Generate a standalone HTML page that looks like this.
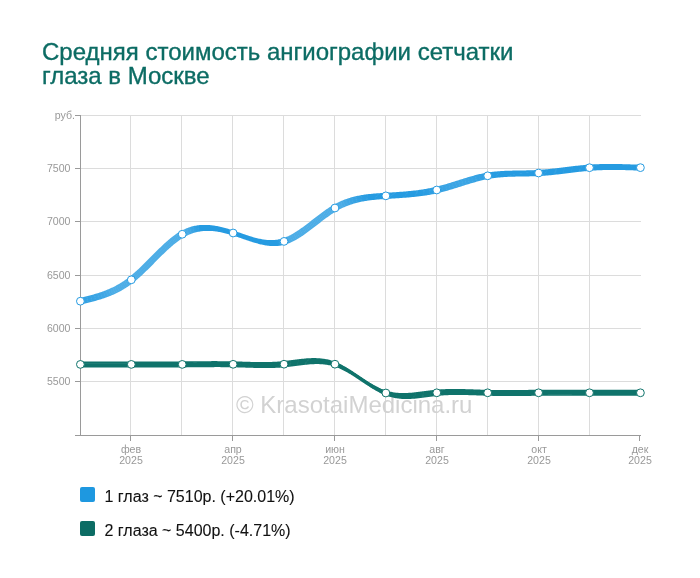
<!DOCTYPE html>
<html><head><meta charset="utf-8">
<style>
html,body{margin:0;padding:0;background:#fff;width:700px;height:578px;overflow:hidden;}
body{position:relative;font-family:"Liberation Sans",sans-serif;}
.title{position:absolute;left:42px;top:40px;font-size:24px;line-height:24px;color:#0c6c64;white-space:nowrap;-webkit-text-stroke:0.35px #0c6c64;will-change:transform;}
svg{position:absolute;left:0;top:0;}
.leg{position:absolute;left:80px;font-size:16px;color:#111;white-space:nowrap;-webkit-text-stroke:0.1px #111;will-change:transform;}
.sw{position:absolute;left:0;top:0;width:15px;height:15px;border-radius:2px;}
.lt{position:absolute;left:24.5px;top:0.5px;line-height:18px;}
</style></head><body>
<div class="title">Средняя стоимость ангиографии сетчатки<br>глаза в Москве</div>
<svg width="700" height="578" viewBox="0 0 700 578">
<line x1="80" y1="115.5" x2="641" y2="115.5" stroke="#dcdcdc" stroke-width="1"/>
<line x1="80" y1="168.5" x2="641" y2="168.5" stroke="#dcdcdc" stroke-width="1"/>
<line x1="80" y1="221.5" x2="641" y2="221.5" stroke="#dcdcdc" stroke-width="1"/>
<line x1="80" y1="275.5" x2="641" y2="275.5" stroke="#dcdcdc" stroke-width="1"/>
<line x1="80" y1="328.5" x2="641" y2="328.5" stroke="#dcdcdc" stroke-width="1"/>
<line x1="80" y1="381.5" x2="641" y2="381.5" stroke="#dcdcdc" stroke-width="1"/>
<line x1="130.5" y1="115" x2="130.5" y2="435" stroke="#dcdcdc" stroke-width="1"/>
<line x1="181.5" y1="115" x2="181.5" y2="435" stroke="#dcdcdc" stroke-width="1"/>
<line x1="232.5" y1="115" x2="232.5" y2="435" stroke="#dcdcdc" stroke-width="1"/>
<line x1="283.5" y1="115" x2="283.5" y2="435" stroke="#dcdcdc" stroke-width="1"/>
<line x1="334.5" y1="115" x2="334.5" y2="435" stroke="#dcdcdc" stroke-width="1"/>
<line x1="385.5" y1="115" x2="385.5" y2="435" stroke="#dcdcdc" stroke-width="1"/>
<line x1="436.5" y1="115" x2="436.5" y2="435" stroke="#dcdcdc" stroke-width="1"/>
<line x1="487.5" y1="115" x2="487.5" y2="435" stroke="#dcdcdc" stroke-width="1"/>
<line x1="538.5" y1="115" x2="538.5" y2="435" stroke="#dcdcdc" stroke-width="1"/>
<line x1="589.5" y1="115" x2="589.5" y2="435" stroke="#dcdcdc" stroke-width="1"/>
<text x="236" y="413" font-size="24" fill="#d2d2d2" font-family="Liberation Sans">© KrasotaiMedicina.ru</text>
<line x1="80.5" y1="115" x2="80.5" y2="436" stroke="#9a9a9a" stroke-width="1"/>
<line x1="75" y1="435.5" x2="641" y2="435.5" stroke="#9a9a9a" stroke-width="1"/>
<line x1="75" y1="115.5" x2="80" y2="115.5" stroke="#9a9a9a" stroke-width="1"/>
<text x="75" y="119" font-size="10.6" fill="#999999" text-anchor="end" font-family="Liberation Sans">руб.</text>
<line x1="75" y1="168.5" x2="80" y2="168.5" stroke="#9a9a9a" stroke-width="1"/>
<text x="70.5" y="171.5" font-size="10.6" fill="#999999" text-anchor="end" font-family="Liberation Sans">7500</text>
<line x1="75" y1="221.5" x2="80" y2="221.5" stroke="#9a9a9a" stroke-width="1"/>
<text x="70.5" y="224.5" font-size="10.6" fill="#999999" text-anchor="end" font-family="Liberation Sans">7000</text>
<line x1="75" y1="275.5" x2="80" y2="275.5" stroke="#9a9a9a" stroke-width="1"/>
<text x="70.5" y="278.5" font-size="10.6" fill="#999999" text-anchor="end" font-family="Liberation Sans">6500</text>
<line x1="75" y1="328.5" x2="80" y2="328.5" stroke="#9a9a9a" stroke-width="1"/>
<text x="70.5" y="331.5" font-size="10.6" fill="#999999" text-anchor="end" font-family="Liberation Sans">6000</text>
<line x1="75" y1="381.5" x2="80" y2="381.5" stroke="#9a9a9a" stroke-width="1"/>
<text x="70.5" y="384.5" font-size="10.6" fill="#999999" text-anchor="end" font-family="Liberation Sans">5500</text>
<line x1="130.5" y1="435" x2="130.5" y2="441" stroke="#9a9a9a" stroke-width="1"/>
<text x="131.0" y="452.5" font-size="10.6" fill="#999999" text-anchor="middle" font-family="Liberation Sans">фев</text>
<text x="131.0" y="463.5" font-size="10.6" fill="#999999" text-anchor="middle" font-family="Liberation Sans">2025</text>
<line x1="232.5" y1="435" x2="232.5" y2="441" stroke="#9a9a9a" stroke-width="1"/>
<text x="233.0" y="452.5" font-size="10.6" fill="#999999" text-anchor="middle" font-family="Liberation Sans">апр</text>
<text x="233.0" y="463.5" font-size="10.6" fill="#999999" text-anchor="middle" font-family="Liberation Sans">2025</text>
<line x1="334.5" y1="435" x2="334.5" y2="441" stroke="#9a9a9a" stroke-width="1"/>
<text x="335.0" y="452.5" font-size="10.6" fill="#999999" text-anchor="middle" font-family="Liberation Sans">июн</text>
<text x="335.0" y="463.5" font-size="10.6" fill="#999999" text-anchor="middle" font-family="Liberation Sans">2025</text>
<line x1="436.5" y1="435" x2="436.5" y2="441" stroke="#9a9a9a" stroke-width="1"/>
<text x="437.0" y="452.5" font-size="10.6" fill="#999999" text-anchor="middle" font-family="Liberation Sans">авг</text>
<text x="437.0" y="463.5" font-size="10.6" fill="#999999" text-anchor="middle" font-family="Liberation Sans">2025</text>
<line x1="538.5" y1="435" x2="538.5" y2="441" stroke="#9a9a9a" stroke-width="1"/>
<text x="539.0" y="452.5" font-size="10.6" fill="#999999" text-anchor="middle" font-family="Liberation Sans">окт</text>
<text x="539.0" y="463.5" font-size="10.6" fill="#999999" text-anchor="middle" font-family="Liberation Sans">2025</text>
<line x1="639.5" y1="435" x2="639.5" y2="441" stroke="#9a9a9a" stroke-width="1"/>
<text x="640.0" y="452.5" font-size="10.6" fill="#999999" text-anchor="middle" font-family="Liberation Sans">дек</text>
<text x="640.0" y="463.5" font-size="10.6" fill="#999999" text-anchor="middle" font-family="Liberation Sans">2025</text>
<defs><linearGradient id="gpb" gradientUnits="userSpaceOnUse" x1="80" y1="0" x2="641" y2="0"><stop offset="0.0007" stop-color="#33a1e3"/><stop offset="0.0061" stop-color="#34a1e3"/><stop offset="0.0114" stop-color="#34a2e3"/><stop offset="0.0168" stop-color="#35a2e3"/><stop offset="0.0221" stop-color="#37a3e3"/><stop offset="0.0275" stop-color="#39a4e4"/><stop offset="0.0328" stop-color="#3ba5e4"/><stop offset="0.0381" stop-color="#3ea6e4"/><stop offset="0.0435" stop-color="#41a7e5"/><stop offset="0.0488" stop-color="#44a9e5"/><stop offset="0.0542" stop-color="#48abe6"/><stop offset="0.0595" stop-color="#4dade6"/><stop offset="0.0649" stop-color="#4dade6"/><stop offset="0.0702" stop-color="#4dade6"/><stop offset="0.0756" stop-color="#4dade6"/><stop offset="0.0809" stop-color="#4dade6"/><stop offset="0.0863" stop-color="#4dade6"/><stop offset="0.0916" stop-color="#4dade6"/><stop offset="0.0970" stop-color="#4dade6"/><stop offset="0.1023" stop-color="#4dade6"/><stop offset="0.1077" stop-color="#4dade6"/><stop offset="0.1130" stop-color="#4dade6"/><stop offset="0.1184" stop-color="#4dade6"/><stop offset="0.1237" stop-color="#4dade6"/><stop offset="0.1291" stop-color="#4dade6"/><stop offset="0.1344" stop-color="#4dade6"/><stop offset="0.1398" stop-color="#4dade6"/><stop offset="0.1451" stop-color="#4dade6"/><stop offset="0.1504" stop-color="#4dade6"/><stop offset="0.1558" stop-color="#4dade6"/><stop offset="0.1611" stop-color="#4dade6"/><stop offset="0.1665" stop-color="#4dade6"/><stop offset="0.1718" stop-color="#4dade6"/><stop offset="0.1772" stop-color="#4dade6"/><stop offset="0.1825" stop-color="#4dade6"/><stop offset="0.1879" stop-color="#4dade6"/><stop offset="0.1932" stop-color="#45a9e5"/><stop offset="0.1986" stop-color="#3da5e4"/><stop offset="0.2039" stop-color="#35a2e3"/><stop offset="0.2093" stop-color="#2d9ee2"/><stop offset="0.2146" stop-color="#269be1"/><stop offset="0.2200" stop-color="#269be1"/><stop offset="0.2253" stop-color="#269be1"/><stop offset="0.2307" stop-color="#269be1"/><stop offset="0.2360" stop-color="#269be1"/><stop offset="0.2414" stop-color="#269be1"/><stop offset="0.2467" stop-color="#269be1"/><stop offset="0.2520" stop-color="#269be1"/><stop offset="0.2574" stop-color="#269be1"/><stop offset="0.2627" stop-color="#269be1"/><stop offset="0.2681" stop-color="#269be1"/><stop offset="0.2734" stop-color="#269be1"/><stop offset="0.2788" stop-color="#269be1"/><stop offset="0.2841" stop-color="#269be1"/><stop offset="0.2895" stop-color="#269be1"/><stop offset="0.2948" stop-color="#269be1"/><stop offset="0.3002" stop-color="#269be1"/><stop offset="0.3055" stop-color="#269be1"/><stop offset="0.3109" stop-color="#269be1"/><stop offset="0.3162" stop-color="#269be1"/><stop offset="0.3216" stop-color="#269be1"/><stop offset="0.3269" stop-color="#269be1"/><stop offset="0.3323" stop-color="#269be1"/><stop offset="0.3376" stop-color="#269be1"/><stop offset="0.3430" stop-color="#269be1"/><stop offset="0.3483" stop-color="#269be1"/><stop offset="0.3537" stop-color="#299ce1"/><stop offset="0.3590" stop-color="#32a0e3"/><stop offset="0.3643" stop-color="#3ca5e4"/><stop offset="0.3697" stop-color="#45a9e5"/><stop offset="0.3750" stop-color="#4dade6"/><stop offset="0.3804" stop-color="#4dade6"/><stop offset="0.3857" stop-color="#4dade6"/><stop offset="0.3911" stop-color="#4dade6"/><stop offset="0.3964" stop-color="#4dade6"/><stop offset="0.4018" stop-color="#4dade6"/><stop offset="0.4071" stop-color="#4dade6"/><stop offset="0.4125" stop-color="#4dade6"/><stop offset="0.4178" stop-color="#4dade6"/><stop offset="0.4232" stop-color="#4dade6"/><stop offset="0.4285" stop-color="#4dade6"/><stop offset="0.4339" stop-color="#4dade6"/><stop offset="0.4392" stop-color="#4dade6"/><stop offset="0.4446" stop-color="#4dade6"/><stop offset="0.4499" stop-color="#4dade6"/><stop offset="0.4553" stop-color="#4dade6"/><stop offset="0.4606" stop-color="#4dade6"/><stop offset="0.4660" stop-color="#4cace6"/><stop offset="0.4713" stop-color="#46aae5"/><stop offset="0.4766" stop-color="#41a7e5"/><stop offset="0.4820" stop-color="#3ca5e4"/><stop offset="0.4873" stop-color="#38a3e3"/><stop offset="0.4927" stop-color="#34a1e3"/><stop offset="0.4980" stop-color="#30a0e2"/><stop offset="0.5034" stop-color="#2d9ee2"/><stop offset="0.5087" stop-color="#2a9de1"/><stop offset="0.5141" stop-color="#279be1"/><stop offset="0.5194" stop-color="#269be1"/><stop offset="0.5248" stop-color="#269be1"/><stop offset="0.5301" stop-color="#269be1"/><stop offset="0.5355" stop-color="#269be1"/><stop offset="0.5408" stop-color="#269be1"/><stop offset="0.5462" stop-color="#269be1"/><stop offset="0.5515" stop-color="#269be1"/><stop offset="0.5569" stop-color="#269be1"/><stop offset="0.5622" stop-color="#269be1"/><stop offset="0.5676" stop-color="#269be1"/><stop offset="0.5729" stop-color="#269be1"/><stop offset="0.5783" stop-color="#269be1"/><stop offset="0.5836" stop-color="#269be1"/><stop offset="0.5889" stop-color="#269be1"/><stop offset="0.5943" stop-color="#269be1"/><stop offset="0.5996" stop-color="#269be1"/><stop offset="0.6050" stop-color="#279ce1"/><stop offset="0.6103" stop-color="#299ce1"/><stop offset="0.6157" stop-color="#2b9de2"/><stop offset="0.6210" stop-color="#2d9ee2"/><stop offset="0.6264" stop-color="#2f9fe2"/><stop offset="0.6317" stop-color="#31a0e3"/><stop offset="0.6371" stop-color="#33a1e3"/><stop offset="0.6424" stop-color="#36a2e3"/><stop offset="0.6478" stop-color="#38a3e3"/><stop offset="0.6531" stop-color="#39a4e4"/><stop offset="0.6585" stop-color="#3aa4e4"/><stop offset="0.6638" stop-color="#3ba5e4"/><stop offset="0.6692" stop-color="#3ca5e4"/><stop offset="0.6745" stop-color="#3ca5e4"/><stop offset="0.6799" stop-color="#3ca5e4"/><stop offset="0.6852" stop-color="#3ba5e4"/><stop offset="0.6906" stop-color="#3ba4e4"/><stop offset="0.6959" stop-color="#39a4e4"/><stop offset="0.7012" stop-color="#38a3e3"/><stop offset="0.7066" stop-color="#36a2e3"/><stop offset="0.7119" stop-color="#34a1e3"/><stop offset="0.7173" stop-color="#32a0e3"/><stop offset="0.7226" stop-color="#2f9fe2"/><stop offset="0.7280" stop-color="#2c9ee2"/><stop offset="0.7333" stop-color="#299ce1"/><stop offset="0.7387" stop-color="#269be1"/><stop offset="0.7440" stop-color="#269be1"/><stop offset="0.7494" stop-color="#269be1"/><stop offset="0.7547" stop-color="#269be1"/><stop offset="0.7601" stop-color="#269be1"/><stop offset="0.7654" stop-color="#269be1"/><stop offset="0.7708" stop-color="#269be1"/><stop offset="0.7761" stop-color="#269be1"/><stop offset="0.7815" stop-color="#269be1"/><stop offset="0.7868" stop-color="#269be1"/><stop offset="0.7922" stop-color="#269be1"/><stop offset="0.7975" stop-color="#269be1"/><stop offset="0.8029" stop-color="#269be1"/><stop offset="0.8082" stop-color="#269be1"/><stop offset="0.8135" stop-color="#269be1"/><stop offset="0.8189" stop-color="#269be1"/><stop offset="0.8242" stop-color="#269be1"/><stop offset="0.8296" stop-color="#269be1"/><stop offset="0.8349" stop-color="#269be1"/><stop offset="0.8403" stop-color="#269be1"/><stop offset="0.8456" stop-color="#269be1"/><stop offset="0.8510" stop-color="#269be1"/><stop offset="0.8563" stop-color="#269be1"/><stop offset="0.8617" stop-color="#269be1"/><stop offset="0.8670" stop-color="#269be1"/><stop offset="0.8724" stop-color="#269be1"/><stop offset="0.8777" stop-color="#269be1"/><stop offset="0.8831" stop-color="#269be1"/><stop offset="0.8884" stop-color="#269be1"/><stop offset="0.8938" stop-color="#269be1"/><stop offset="0.8991" stop-color="#269be1"/><stop offset="0.9045" stop-color="#269be1"/><stop offset="0.9098" stop-color="#269be1"/><stop offset="0.9152" stop-color="#269be1"/><stop offset="0.9205" stop-color="#269be1"/><stop offset="0.9258" stop-color="#269be1"/><stop offset="0.9312" stop-color="#269be1"/><stop offset="0.9365" stop-color="#269be1"/><stop offset="0.9419" stop-color="#269be1"/><stop offset="0.9472" stop-color="#269be1"/><stop offset="0.9526" stop-color="#269be1"/><stop offset="0.9579" stop-color="#269be1"/><stop offset="0.9633" stop-color="#269be1"/><stop offset="0.9686" stop-color="#269be1"/><stop offset="0.9740" stop-color="#269be1"/><stop offset="0.9793" stop-color="#269be1"/><stop offset="0.9847" stop-color="#269be1"/><stop offset="0.9900" stop-color="#269be1"/><stop offset="0.9954" stop-color="#269be1"/></linearGradient><path id="pb" d="M80.4,301.20 L81.4,300.96 L82.4,300.72 L83.4,300.48 L84.4,300.24 L85.4,300.00 L86.4,299.75 L87.4,299.50 L88.4,299.25 L89.4,299.00 L90.4,298.74 L91.4,298.48 L92.4,298.21 L93.4,297.94 L94.4,297.66 L95.4,297.38 L96.4,297.09 L97.4,296.79 L98.4,296.49 L99.4,296.18 L100.4,295.86 L101.4,295.53 L102.4,295.19 L103.4,294.85 L104.4,294.49 L105.4,294.13 L106.4,293.75 L107.4,293.37 L108.4,292.97 L109.4,292.56 L110.4,292.14 L111.4,291.70 L112.4,291.26 L113.4,290.80 L114.4,290.32 L115.4,289.83 L116.4,289.33 L117.4,288.81 L118.4,288.28 L119.4,287.73 L120.4,287.16 L121.4,286.58 L122.4,285.98 L123.4,285.36 L124.4,284.72 L125.4,284.07 L126.4,283.39 L127.4,282.70 L128.4,281.99 L129.4,281.26 L130.4,280.50 L131.4,279.73 L132.4,278.93 L133.4,278.12 L134.4,277.28 L135.4,276.43 L136.4,275.56 L137.4,274.67 L138.4,273.77 L139.4,272.86 L140.4,271.93 L141.4,270.99 L142.4,270.03 L143.4,269.07 L144.4,268.10 L145.4,267.12 L146.4,266.13 L147.4,265.14 L148.4,264.14 L149.4,263.13 L150.4,262.12 L151.4,261.12 L152.4,260.11 L153.4,259.09 L154.4,258.08 L155.4,257.08 L156.4,256.07 L157.4,255.07 L158.4,254.07 L159.4,253.08 L160.4,252.09 L161.4,251.12 L162.4,250.15 L163.4,249.19 L164.4,248.24 L165.4,247.31 L166.4,246.38 L167.4,245.47 L168.4,244.58 L169.4,243.70 L170.4,242.83 L171.4,241.99 L172.4,241.16 L173.4,240.36 L174.4,239.57 L175.4,238.81 L176.4,238.06 L177.4,237.35 L178.4,236.65 L179.4,235.99 L180.4,235.34 L181.4,234.73 L182.4,234.15 L183.4,233.59 L184.4,233.07 L185.4,232.57 L186.4,232.10 L187.4,231.66 L188.4,231.24 L189.4,230.85 L190.4,230.49 L191.4,230.15 L192.4,229.84 L193.4,229.56 L194.4,229.29 L195.4,229.06 L196.4,228.84 L197.4,228.65 L198.4,228.48 L199.4,228.33 L200.4,228.21 L201.4,228.10 L202.4,228.02 L203.4,227.95 L204.4,227.91 L205.4,227.88 L206.4,227.88 L207.4,227.89 L208.4,227.92 L209.4,227.97 L210.4,228.03 L211.4,228.11 L212.4,228.21 L213.4,228.32 L214.4,228.44 L215.4,228.59 L216.4,228.74 L217.4,228.91 L218.4,229.09 L219.4,229.29 L220.4,229.49 L221.4,229.71 L222.4,229.94 L223.4,230.18 L224.4,230.44 L225.4,230.70 L226.4,230.97 L227.4,231.25 L228.4,231.54 L229.4,231.83 L230.4,232.14 L231.4,232.45 L232.4,232.76 L233.4,233.09 L234.4,233.42 L235.4,233.75 L236.4,234.09 L237.4,234.43 L238.4,234.78 L239.4,235.13 L240.4,235.47 L241.4,235.82 L242.4,236.17 L243.4,236.52 L244.4,236.87 L245.4,237.21 L246.4,237.55 L247.4,237.89 L248.4,238.23 L249.4,238.55 L250.4,238.88 L251.4,239.19 L252.4,239.50 L253.4,239.80 L254.4,240.10 L255.4,240.38 L256.4,240.65 L257.4,240.91 L258.4,241.16 L259.4,241.40 L260.4,241.63 L261.4,241.84 L262.4,242.04 L263.4,242.22 L264.4,242.39 L265.4,242.54 L266.4,242.67 L267.4,242.78 L268.4,242.88 L269.4,242.96 L270.4,243.01 L271.4,243.05 L272.4,243.06 L273.4,243.05 L274.4,243.02 L275.4,242.97 L276.4,242.89 L277.4,242.78 L278.4,242.65 L279.4,242.50 L280.4,242.31 L281.4,242.10 L282.4,241.86 L283.4,241.59 L284.4,241.29 L285.4,240.96 L286.4,240.60 L287.4,240.21 L288.4,239.79 L289.4,239.35 L290.4,238.89 L291.4,238.39 L292.4,237.88 L293.4,237.34 L294.4,236.78 L295.4,236.21 L296.4,235.61 L297.4,234.99 L298.4,234.36 L299.4,233.71 L300.4,233.04 L301.4,232.36 L302.4,231.67 L303.4,230.96 L304.4,230.24 L305.4,229.52 L306.4,228.78 L307.4,228.03 L308.4,227.28 L309.4,226.52 L310.4,225.76 L311.4,224.99 L312.4,224.21 L313.4,223.44 L314.4,222.66 L315.4,221.88 L316.4,221.11 L317.4,220.33 L318.4,219.56 L319.4,218.79 L320.4,218.02 L321.4,217.26 L322.4,216.51 L323.4,215.76 L324.4,215.02 L325.4,214.29 L326.4,213.58 L327.4,212.87 L328.4,212.17 L329.4,211.49 L330.4,210.83 L331.4,210.17 L332.4,209.54 L333.4,208.92 L334.4,208.32 L335.4,207.74 L336.4,207.18 L337.4,206.64 L338.4,206.12 L339.4,205.61 L340.4,205.13 L341.4,204.66 L342.4,204.21 L343.4,203.77 L344.4,203.36 L345.4,202.95 L346.4,202.57 L347.4,202.20 L348.4,201.84 L349.4,201.50 L350.4,201.18 L351.4,200.87 L352.4,200.57 L353.4,200.28 L354.4,200.01 L355.4,199.75 L356.4,199.51 L357.4,199.27 L358.4,199.05 L359.4,198.83 L360.4,198.63 L361.4,198.44 L362.4,198.25 L363.4,198.08 L364.4,197.91 L365.4,197.76 L366.4,197.61 L367.4,197.47 L368.4,197.34 L369.4,197.21 L370.4,197.10 L371.4,196.98 L372.4,196.88 L373.4,196.78 L374.4,196.68 L375.4,196.59 L376.4,196.51 L377.4,196.43 L378.4,196.35 L379.4,196.27 L380.4,196.20 L381.4,196.13 L382.4,196.07 L383.4,196.00 L384.4,195.94 L385.4,195.88 L386.4,195.82 L387.4,195.76 L388.4,195.70 L389.4,195.63 L390.4,195.57 L391.4,195.51 L392.4,195.45 L393.4,195.39 L394.4,195.33 L395.4,195.27 L396.4,195.20 L397.4,195.14 L398.4,195.07 L399.4,195.00 L400.4,194.93 L401.4,194.86 L402.4,194.79 L403.4,194.72 L404.4,194.64 L405.4,194.56 L406.4,194.48 L407.4,194.39 L408.4,194.31 L409.4,194.22 L410.4,194.12 L411.4,194.03 L412.4,193.93 L413.4,193.82 L414.4,193.71 L415.4,193.60 L416.4,193.49 L417.4,193.37 L418.4,193.24 L419.4,193.12 L420.4,192.98 L421.4,192.84 L422.4,192.70 L423.4,192.55 L424.4,192.40 L425.4,192.24 L426.4,192.08 L427.4,191.91 L428.4,191.73 L429.4,191.55 L430.4,191.36 L431.4,191.16 L432.4,190.96 L433.4,190.75 L434.4,190.54 L435.4,190.32 L436.4,190.09 L437.4,189.85 L438.4,189.61 L439.4,189.36 L440.4,189.10 L441.4,188.84 L442.4,188.57 L443.4,188.29 L444.4,188.01 L445.4,187.73 L446.4,187.44 L447.4,187.14 L448.4,186.85 L449.4,186.55 L450.4,186.24 L451.4,185.94 L452.4,185.63 L453.4,185.32 L454.4,185.00 L455.4,184.69 L456.4,184.37 L457.4,184.06 L458.4,183.74 L459.4,183.42 L460.4,183.11 L461.4,182.79 L462.4,182.47 L463.4,182.16 L464.4,181.85 L465.4,181.54 L466.4,181.23 L467.4,180.92 L468.4,180.62 L469.4,180.32 L470.4,180.02 L471.4,179.73 L472.4,179.44 L473.4,179.16 L474.4,178.88 L475.4,178.60 L476.4,178.34 L477.4,178.07 L478.4,177.82 L479.4,177.57 L480.4,177.33 L481.4,177.09 L482.4,176.86 L483.4,176.64 L484.4,176.43 L485.4,176.23 L486.4,176.03 L487.4,175.85 L488.4,175.67 L489.4,175.51 L490.4,175.35 L491.4,175.20 L492.4,175.07 L493.4,174.93 L494.4,174.81 L495.4,174.70 L496.4,174.59 L497.4,174.49 L498.4,174.40 L499.4,174.31 L500.4,174.23 L501.4,174.15 L502.4,174.09 L503.4,174.02 L504.4,173.96 L505.4,173.91 L506.4,173.86 L507.4,173.82 L508.4,173.78 L509.4,173.74 L510.4,173.71 L511.4,173.68 L512.4,173.65 L513.4,173.63 L514.4,173.60 L515.4,173.58 L516.4,173.56 L517.4,173.55 L518.4,173.53 L519.4,173.52 L520.4,173.50 L521.4,173.49 L522.4,173.47 L523.4,173.46 L524.4,173.44 L525.4,173.43 L526.4,173.41 L527.4,173.39 L528.4,173.37 L529.4,173.35 L530.4,173.32 L531.4,173.30 L532.4,173.27 L533.4,173.23 L534.4,173.20 L535.4,173.16 L536.4,173.11 L537.4,173.06 L538.4,173.01 L539.4,172.95 L540.4,172.89 L541.4,172.82 L542.4,172.75 L543.4,172.67 L544.4,172.59 L545.4,172.51 L546.4,172.42 L547.4,172.33 L548.4,172.24 L549.4,172.14 L550.4,172.04 L551.4,171.93 L552.4,171.83 L553.4,171.72 L554.4,171.61 L555.4,171.49 L556.4,171.38 L557.4,171.26 L558.4,171.14 L559.4,171.02 L560.4,170.90 L561.4,170.78 L562.4,170.66 L563.4,170.54 L564.4,170.41 L565.4,170.29 L566.4,170.16 L567.4,170.04 L568.4,169.92 L569.4,169.79 L570.4,169.67 L571.4,169.55 L572.4,169.43 L573.4,169.31 L574.4,169.19 L575.4,169.08 L576.4,168.96 L577.4,168.85 L578.4,168.74 L579.4,168.63 L580.4,168.52 L581.4,168.42 L582.4,168.32 L583.4,168.22 L584.4,168.13 L585.4,168.03 L586.4,167.95 L587.4,167.86 L588.4,167.78 L589.4,167.71 L590.4,167.64 L591.4,167.57 L592.4,167.50 L593.4,167.45 L594.4,167.39 L595.4,167.34 L596.4,167.29 L597.4,167.25 L598.4,167.21 L599.4,167.17 L600.4,167.14 L601.4,167.11 L602.4,167.08 L603.4,167.06 L604.4,167.04 L605.4,167.02 L606.4,167.00 L607.4,166.99 L608.4,166.98 L609.4,166.98 L610.4,166.97 L611.4,166.97 L612.4,166.97 L613.4,166.98 L614.4,166.98 L615.4,166.99 L616.4,167.00 L617.4,167.01 L618.4,167.03 L619.4,167.04 L620.4,167.06 L621.4,167.08 L622.4,167.10 L623.4,167.12 L624.4,167.15 L625.4,167.17 L626.4,167.20 L627.4,167.23 L628.4,167.26 L629.4,167.29 L630.4,167.32 L631.4,167.35 L632.4,167.38 L633.4,167.42 L634.4,167.45 L635.4,167.48 L636.4,167.52 L637.4,167.55 L638.4,167.59 L639.4,167.62 L640.4,167.66 L640.4,167.66" fill="none" stroke="url(#gpb)" stroke-width="1.6" stroke-linejoin="round" stroke-linecap="round"/></defs>
<use href="#pb" transform="translate(-1.525,-2.200)"/>
<use href="#pb" transform="translate(-0.915,-1.320)"/>
<use href="#pb" transform="translate(-0.305,-0.440)"/>
<use href="#pb" transform="translate(0.305,0.440)"/>
<use href="#pb" transform="translate(0.915,1.320)"/>
<use href="#pb" transform="translate(1.525,2.200)"/>
<defs><linearGradient id="gpt" gradientUnits="userSpaceOnUse" x1="80" y1="0" x2="641" y2="0"><stop offset="0.0007" stop-color="#0f736b"/><stop offset="0.0061" stop-color="#0f736b"/><stop offset="0.0114" stop-color="#0f736b"/><stop offset="0.0168" stop-color="#0f736b"/><stop offset="0.0221" stop-color="#0f736b"/><stop offset="0.0275" stop-color="#0f736b"/><stop offset="0.0328" stop-color="#0f736b"/><stop offset="0.0381" stop-color="#0f736b"/><stop offset="0.0435" stop-color="#0f736b"/><stop offset="0.0488" stop-color="#0f736b"/><stop offset="0.0542" stop-color="#0f736b"/><stop offset="0.0595" stop-color="#0f736b"/><stop offset="0.0649" stop-color="#0f736b"/><stop offset="0.0702" stop-color="#0f736b"/><stop offset="0.0756" stop-color="#0f736b"/><stop offset="0.0809" stop-color="#0f736b"/><stop offset="0.0863" stop-color="#0f736b"/><stop offset="0.0916" stop-color="#0f736b"/><stop offset="0.0970" stop-color="#0f736b"/><stop offset="0.1023" stop-color="#0f736b"/><stop offset="0.1077" stop-color="#0f736b"/><stop offset="0.1130" stop-color="#0f736b"/><stop offset="0.1184" stop-color="#0f736b"/><stop offset="0.1237" stop-color="#0f736b"/><stop offset="0.1291" stop-color="#0f736b"/><stop offset="0.1344" stop-color="#0f736b"/><stop offset="0.1398" stop-color="#0f736b"/><stop offset="0.1451" stop-color="#0f736b"/><stop offset="0.1504" stop-color="#0f736b"/><stop offset="0.1558" stop-color="#0f736b"/><stop offset="0.1611" stop-color="#0f736b"/><stop offset="0.1665" stop-color="#0f736b"/><stop offset="0.1718" stop-color="#0f736b"/><stop offset="0.1772" stop-color="#0f736b"/><stop offset="0.1825" stop-color="#0f736b"/><stop offset="0.1879" stop-color="#0f736b"/><stop offset="0.1932" stop-color="#0f736b"/><stop offset="0.1986" stop-color="#0f736b"/><stop offset="0.2039" stop-color="#0f736b"/><stop offset="0.2093" stop-color="#0f736b"/><stop offset="0.2146" stop-color="#0f736b"/><stop offset="0.2200" stop-color="#0f736b"/><stop offset="0.2253" stop-color="#0f736b"/><stop offset="0.2307" stop-color="#0f736b"/><stop offset="0.2360" stop-color="#0f736b"/><stop offset="0.2414" stop-color="#0f736b"/><stop offset="0.2467" stop-color="#0f736b"/><stop offset="0.2520" stop-color="#0f736b"/><stop offset="0.2574" stop-color="#0f736b"/><stop offset="0.2627" stop-color="#0f736b"/><stop offset="0.2681" stop-color="#0f736b"/><stop offset="0.2734" stop-color="#0f736b"/><stop offset="0.2788" stop-color="#0f736b"/><stop offset="0.2841" stop-color="#0f736b"/><stop offset="0.2895" stop-color="#0f736b"/><stop offset="0.2948" stop-color="#0f736b"/><stop offset="0.3002" stop-color="#0f736b"/><stop offset="0.3055" stop-color="#0f736b"/><stop offset="0.3109" stop-color="#0f736b"/><stop offset="0.3162" stop-color="#0f736b"/><stop offset="0.3216" stop-color="#0f736b"/><stop offset="0.3269" stop-color="#0f736b"/><stop offset="0.3323" stop-color="#0f736b"/><stop offset="0.3376" stop-color="#0f736b"/><stop offset="0.3430" stop-color="#0f736b"/><stop offset="0.3483" stop-color="#0f736b"/><stop offset="0.3537" stop-color="#0f736b"/><stop offset="0.3590" stop-color="#0f736b"/><stop offset="0.3643" stop-color="#0f736b"/><stop offset="0.3697" stop-color="#0f736b"/><stop offset="0.3750" stop-color="#10736b"/><stop offset="0.3804" stop-color="#10746c"/><stop offset="0.3857" stop-color="#10746c"/><stop offset="0.3911" stop-color="#10736b"/><stop offset="0.3964" stop-color="#0f736b"/><stop offset="0.4018" stop-color="#0f736b"/><stop offset="0.4071" stop-color="#0f736b"/><stop offset="0.4125" stop-color="#0f736b"/><stop offset="0.4178" stop-color="#0f736b"/><stop offset="0.4232" stop-color="#0f736b"/><stop offset="0.4285" stop-color="#0f736b"/><stop offset="0.4339" stop-color="#0f736b"/><stop offset="0.4392" stop-color="#0f736b"/><stop offset="0.4446" stop-color="#0f736b"/><stop offset="0.4499" stop-color="#0f736b"/><stop offset="0.4553" stop-color="#0f736b"/><stop offset="0.4606" stop-color="#0f736b"/><stop offset="0.4660" stop-color="#0f736b"/><stop offset="0.4713" stop-color="#0f736b"/><stop offset="0.4766" stop-color="#0f736b"/><stop offset="0.4820" stop-color="#0f736b"/><stop offset="0.4873" stop-color="#0f736b"/><stop offset="0.4927" stop-color="#0f736b"/><stop offset="0.4980" stop-color="#0f736b"/><stop offset="0.5034" stop-color="#0f736b"/><stop offset="0.5087" stop-color="#0f736b"/><stop offset="0.5141" stop-color="#0f736b"/><stop offset="0.5194" stop-color="#0f736b"/><stop offset="0.5248" stop-color="#0f736b"/><stop offset="0.5301" stop-color="#0f736b"/><stop offset="0.5355" stop-color="#0f736b"/><stop offset="0.5408" stop-color="#0f736b"/><stop offset="0.5462" stop-color="#0f736b"/><stop offset="0.5515" stop-color="#0f736b"/><stop offset="0.5569" stop-color="#0f736b"/><stop offset="0.5622" stop-color="#0f736b"/><stop offset="0.5676" stop-color="#0f736b"/><stop offset="0.5729" stop-color="#0f736b"/><stop offset="0.5783" stop-color="#0f736b"/><stop offset="0.5836" stop-color="#0f736b"/><stop offset="0.5889" stop-color="#0f736b"/><stop offset="0.5943" stop-color="#0f736b"/><stop offset="0.5996" stop-color="#0f736b"/><stop offset="0.6050" stop-color="#0f736b"/><stop offset="0.6103" stop-color="#10746c"/><stop offset="0.6157" stop-color="#11746c"/><stop offset="0.6210" stop-color="#11746c"/><stop offset="0.6264" stop-color="#10736b"/><stop offset="0.6317" stop-color="#0f736b"/><stop offset="0.6371" stop-color="#0f736b"/><stop offset="0.6424" stop-color="#0f736b"/><stop offset="0.6478" stop-color="#0f736b"/><stop offset="0.6531" stop-color="#0f736b"/><stop offset="0.6585" stop-color="#0f736b"/><stop offset="0.6638" stop-color="#0f736b"/><stop offset="0.6692" stop-color="#0f736b"/><stop offset="0.6745" stop-color="#0f736b"/><stop offset="0.6799" stop-color="#0f736b"/><stop offset="0.6852" stop-color="#0f736b"/><stop offset="0.6906" stop-color="#0f736b"/><stop offset="0.6959" stop-color="#0f736b"/><stop offset="0.7012" stop-color="#0f736b"/><stop offset="0.7066" stop-color="#0f736b"/><stop offset="0.7119" stop-color="#0f736b"/><stop offset="0.7173" stop-color="#0f736b"/><stop offset="0.7226" stop-color="#0f736b"/><stop offset="0.7280" stop-color="#0f736b"/><stop offset="0.7333" stop-color="#0f736b"/><stop offset="0.7387" stop-color="#0f736b"/><stop offset="0.7440" stop-color="#0f736b"/><stop offset="0.7494" stop-color="#0f736b"/><stop offset="0.7547" stop-color="#0f736b"/><stop offset="0.7601" stop-color="#0f736b"/><stop offset="0.7654" stop-color="#0f736b"/><stop offset="0.7708" stop-color="#0f736b"/><stop offset="0.7761" stop-color="#0f736b"/><stop offset="0.7815" stop-color="#0f736b"/><stop offset="0.7868" stop-color="#0f736b"/><stop offset="0.7922" stop-color="#0f736b"/><stop offset="0.7975" stop-color="#0f736b"/><stop offset="0.8029" stop-color="#0f736b"/><stop offset="0.8082" stop-color="#0f736b"/><stop offset="0.8135" stop-color="#0f736b"/><stop offset="0.8189" stop-color="#0f736b"/><stop offset="0.8242" stop-color="#0f736b"/><stop offset="0.8296" stop-color="#0f736b"/><stop offset="0.8349" stop-color="#0f736b"/><stop offset="0.8403" stop-color="#0f736b"/><stop offset="0.8456" stop-color="#0f736b"/><stop offset="0.8510" stop-color="#0f736b"/><stop offset="0.8563" stop-color="#0f736b"/><stop offset="0.8617" stop-color="#0f736b"/><stop offset="0.8670" stop-color="#0f736b"/><stop offset="0.8724" stop-color="#0f736b"/><stop offset="0.8777" stop-color="#0f736b"/><stop offset="0.8831" stop-color="#0f736b"/><stop offset="0.8884" stop-color="#0f736b"/><stop offset="0.8938" stop-color="#0f736b"/><stop offset="0.8991" stop-color="#0f736b"/><stop offset="0.9045" stop-color="#0f736b"/><stop offset="0.9098" stop-color="#0f736b"/><stop offset="0.9152" stop-color="#0f736b"/><stop offset="0.9205" stop-color="#0f736b"/><stop offset="0.9258" stop-color="#0f736b"/><stop offset="0.9312" stop-color="#0f736b"/><stop offset="0.9365" stop-color="#0f736b"/><stop offset="0.9419" stop-color="#0f736b"/><stop offset="0.9472" stop-color="#0f736b"/><stop offset="0.9526" stop-color="#0f736b"/><stop offset="0.9579" stop-color="#0f736b"/><stop offset="0.9633" stop-color="#0f736b"/><stop offset="0.9686" stop-color="#0f736b"/><stop offset="0.9740" stop-color="#0f736b"/><stop offset="0.9793" stop-color="#0f736b"/><stop offset="0.9847" stop-color="#0f736b"/><stop offset="0.9900" stop-color="#0f736b"/><stop offset="0.9954" stop-color="#0f736b"/></linearGradient><path id="pt" d="M80.4,364.40 L81.4,364.40 L82.4,364.40 L83.4,364.40 L84.4,364.40 L85.4,364.39 L86.4,364.39 L87.4,364.39 L88.4,364.39 L89.4,364.39 L90.4,364.39 L91.4,364.39 L92.4,364.39 L93.4,364.39 L94.4,364.39 L95.4,364.38 L96.4,364.38 L97.4,364.38 L98.4,364.38 L99.4,364.38 L100.4,364.38 L101.4,364.38 L102.4,364.38 L103.4,364.38 L104.4,364.38 L105.4,364.38 L106.4,364.38 L107.4,364.38 L108.4,364.38 L109.4,364.38 L110.4,364.38 L111.4,364.38 L112.4,364.38 L113.4,364.38 L114.4,364.38 L115.4,364.38 L116.4,364.38 L117.4,364.38 L118.4,364.38 L119.4,364.38 L120.4,364.38 L121.4,364.38 L122.4,364.38 L123.4,364.39 L124.4,364.39 L125.4,364.39 L126.4,364.39 L127.4,364.39 L128.4,364.39 L129.4,364.40 L130.4,364.40 L131.4,364.40 L132.4,364.40 L133.4,364.40 L134.4,364.41 L135.4,364.41 L136.4,364.41 L137.4,364.42 L138.4,364.42 L139.4,364.42 L140.4,364.42 L141.4,364.43 L142.4,364.43 L143.4,364.43 L144.4,364.44 L145.4,364.44 L146.4,364.44 L147.4,364.44 L148.4,364.45 L149.4,364.45 L150.4,364.45 L151.4,364.45 L152.4,364.46 L153.4,364.46 L154.4,364.46 L155.4,364.46 L156.4,364.46 L157.4,364.47 L158.4,364.47 L159.4,364.47 L160.4,364.47 L161.4,364.47 L162.4,364.47 L163.4,364.47 L164.4,364.47 L165.4,364.47 L166.4,364.47 L167.4,364.47 L168.4,364.46 L169.4,364.46 L170.4,364.46 L171.4,364.46 L172.4,364.45 L173.4,364.45 L174.4,364.45 L175.4,364.44 L176.4,364.44 L177.4,364.43 L178.4,364.43 L179.4,364.42 L180.4,364.41 L181.4,364.41 L182.4,364.40 L183.4,364.39 L184.4,364.38 L185.4,364.37 L186.4,364.36 L187.4,364.35 L188.4,364.34 L189.4,364.33 L190.4,364.32 L191.4,364.31 L192.4,364.30 L193.4,364.29 L194.4,364.28 L195.4,364.27 L196.4,364.26 L197.4,364.25 L198.4,364.24 L199.4,364.22 L200.4,364.21 L201.4,364.20 L202.4,364.19 L203.4,364.19 L204.4,364.18 L205.4,364.17 L206.4,364.16 L207.4,364.15 L208.4,364.15 L209.4,364.14 L210.4,364.14 L211.4,364.13 L212.4,364.13 L213.4,364.12 L214.4,364.12 L215.4,364.12 L216.4,364.12 L217.4,364.12 L218.4,364.12 L219.4,364.13 L220.4,364.13 L221.4,364.14 L222.4,364.14 L223.4,364.15 L224.4,364.16 L225.4,364.17 L226.4,364.18 L227.4,364.19 L228.4,364.21 L229.4,364.22 L230.4,364.24 L231.4,364.26 L232.4,364.28 L233.4,364.31 L234.4,364.33 L235.4,364.36 L236.4,364.38 L237.4,364.41 L238.4,364.44 L239.4,364.47 L240.4,364.51 L241.4,364.54 L242.4,364.57 L243.4,364.60 L244.4,364.64 L245.4,364.67 L246.4,364.70 L247.4,364.73 L248.4,364.76 L249.4,364.80 L250.4,364.83 L251.4,364.85 L252.4,364.88 L253.4,364.91 L254.4,364.93 L255.4,364.96 L256.4,364.98 L257.4,365.00 L258.4,365.01 L259.4,365.03 L260.4,365.04 L261.4,365.05 L262.4,365.06 L263.4,365.06 L264.4,365.06 L265.4,365.06 L266.4,365.05 L267.4,365.04 L268.4,365.03 L269.4,365.01 L270.4,364.99 L271.4,364.96 L272.4,364.93 L273.4,364.90 L274.4,364.86 L275.4,364.81 L276.4,364.77 L277.4,364.71 L278.4,364.65 L279.4,364.58 L280.4,364.51 L281.4,364.43 L282.4,364.35 L283.4,364.26 L284.4,364.16 L285.4,364.06 L286.4,363.95 L287.4,363.84 L288.4,363.72 L289.4,363.60 L290.4,363.48 L291.4,363.35 L292.4,363.22 L293.4,363.09 L294.4,362.96 L295.4,362.83 L296.4,362.69 L297.4,362.56 L298.4,362.44 L299.4,362.31 L300.4,362.18 L301.4,362.06 L302.4,361.95 L303.4,361.84 L304.4,361.73 L305.4,361.63 L306.4,361.54 L307.4,361.45 L308.4,361.37 L309.4,361.30 L310.4,361.24 L311.4,361.19 L312.4,361.14 L313.4,361.11 L314.4,361.09 L315.4,361.08 L316.4,361.09 L317.4,361.11 L318.4,361.14 L319.4,361.18 L320.4,361.24 L321.4,361.32 L322.4,361.41 L323.4,361.52 L324.4,361.65 L325.4,361.79 L326.4,361.96 L327.4,362.14 L328.4,362.34 L329.4,362.56 L330.4,362.81 L331.4,363.07 L332.4,363.36 L333.4,363.67 L334.4,364.01 L335.4,364.36 L336.4,364.75 L337.4,365.15 L338.4,365.58 L339.4,366.03 L340.4,366.50 L341.4,366.98 L342.4,367.49 L343.4,368.01 L344.4,368.55 L345.4,369.11 L346.4,369.68 L347.4,370.26 L348.4,370.86 L349.4,371.46 L350.4,372.08 L351.4,372.71 L352.4,373.34 L353.4,373.98 L354.4,374.63 L355.4,375.29 L356.4,375.95 L357.4,376.61 L358.4,377.28 L359.4,377.95 L360.4,378.62 L361.4,379.29 L362.4,379.96 L363.4,380.62 L364.4,381.29 L365.4,381.95 L366.4,382.60 L367.4,383.25 L368.4,383.89 L369.4,384.53 L370.4,385.15 L371.4,385.77 L372.4,386.37 L373.4,386.97 L374.4,387.55 L375.4,388.11 L376.4,388.67 L377.4,389.21 L378.4,389.73 L379.4,390.23 L380.4,390.72 L381.4,391.18 L382.4,391.63 L383.4,392.05 L384.4,392.45 L385.4,392.83 L386.4,393.19 L387.4,393.52 L388.4,393.83 L389.4,394.11 L390.4,394.37 L391.4,394.61 L392.4,394.83 L393.4,395.03 L394.4,395.21 L395.4,395.37 L396.4,395.51 L397.4,395.63 L398.4,395.74 L399.4,395.82 L400.4,395.90 L401.4,395.95 L402.4,395.99 L403.4,396.02 L404.4,396.03 L405.4,396.03 L406.4,396.02 L407.4,395.99 L408.4,395.96 L409.4,395.91 L410.4,395.85 L411.4,395.79 L412.4,395.71 L413.4,395.63 L414.4,395.54 L415.4,395.44 L416.4,395.33 L417.4,395.22 L418.4,395.11 L419.4,394.99 L420.4,394.86 L421.4,394.74 L422.4,394.61 L423.4,394.47 L424.4,394.34 L425.4,394.20 L426.4,394.07 L427.4,393.93 L428.4,393.80 L429.4,393.67 L430.4,393.54 L431.4,393.41 L432.4,393.29 L433.4,393.17 L434.4,393.05 L435.4,392.94 L436.4,392.84 L437.4,392.74 L438.4,392.65 L439.4,392.56 L440.4,392.49 L441.4,392.41 L442.4,392.35 L443.4,392.29 L444.4,392.23 L445.4,392.18 L446.4,392.14 L447.4,392.10 L448.4,392.06 L449.4,392.03 L450.4,392.01 L451.4,391.99 L452.4,391.97 L453.4,391.96 L454.4,391.95 L455.4,391.95 L456.4,391.95 L457.4,391.95 L458.4,391.96 L459.4,391.96 L460.4,391.98 L461.4,391.99 L462.4,392.01 L463.4,392.03 L464.4,392.05 L465.4,392.07 L466.4,392.10 L467.4,392.13 L468.4,392.16 L469.4,392.19 L470.4,392.22 L471.4,392.25 L472.4,392.29 L473.4,392.32 L474.4,392.36 L475.4,392.39 L476.4,392.43 L477.4,392.46 L478.4,392.50 L479.4,392.54 L480.4,392.57 L481.4,392.61 L482.4,392.64 L483.4,392.67 L484.4,392.70 L485.4,392.74 L486.4,392.76 L487.4,392.79 L488.4,392.82 L489.4,392.84 L490.4,392.87 L491.4,392.89 L492.4,392.91 L493.4,392.92 L494.4,392.94 L495.4,392.95 L496.4,392.97 L497.4,392.98 L498.4,392.99 L499.4,393.00 L500.4,393.01 L501.4,393.01 L502.4,393.02 L503.4,393.02 L504.4,393.03 L505.4,393.03 L506.4,393.03 L507.4,393.03 L508.4,393.03 L509.4,393.03 L510.4,393.02 L511.4,393.02 L512.4,393.02 L513.4,393.01 L514.4,393.01 L515.4,393.00 L516.4,392.99 L517.4,392.99 L518.4,392.98 L519.4,392.97 L520.4,392.96 L521.4,392.96 L522.4,392.95 L523.4,392.94 L524.4,392.93 L525.4,392.92 L526.4,392.91 L527.4,392.90 L528.4,392.89 L529.4,392.88 L530.4,392.87 L531.4,392.86 L532.4,392.85 L533.4,392.84 L534.4,392.83 L535.4,392.82 L536.4,392.82 L537.4,392.81 L538.4,392.80 L539.4,392.79 L540.4,392.79 L541.4,392.78 L542.4,392.78 L543.4,392.77 L544.4,392.77 L545.4,392.76 L546.4,392.76 L547.4,392.75 L548.4,392.75 L549.4,392.75 L550.4,392.75 L551.4,392.74 L552.4,392.74 L553.4,392.74 L554.4,392.74 L555.4,392.74 L556.4,392.74 L557.4,392.74 L558.4,392.74 L559.4,392.74 L560.4,392.74 L561.4,392.74 L562.4,392.74 L563.4,392.74 L564.4,392.74 L565.4,392.74 L566.4,392.75 L567.4,392.75 L568.4,392.75 L569.4,392.75 L570.4,392.75 L571.4,392.76 L572.4,392.76 L573.4,392.76 L574.4,392.76 L575.4,392.76 L576.4,392.77 L577.4,392.77 L578.4,392.77 L579.4,392.78 L580.4,392.78 L581.4,392.78 L582.4,392.78 L583.4,392.79 L584.4,392.79 L585.4,392.79 L586.4,392.79 L587.4,392.80 L588.4,392.80 L589.4,392.80 L590.4,392.80 L591.4,392.80 L592.4,392.81 L593.4,392.81 L594.4,392.81 L595.4,392.81 L596.4,392.81 L597.4,392.81 L598.4,392.81 L599.4,392.81 L600.4,392.82 L601.4,392.82 L602.4,392.82 L603.4,392.82 L604.4,392.82 L605.4,392.82 L606.4,392.82 L607.4,392.82 L608.4,392.82 L609.4,392.82 L610.4,392.82 L611.4,392.82 L612.4,392.82 L613.4,392.82 L614.4,392.82 L615.4,392.82 L616.4,392.82 L617.4,392.82 L618.4,392.82 L619.4,392.82 L620.4,392.82 L621.4,392.82 L622.4,392.82 L623.4,392.82 L624.4,392.81 L625.4,392.81 L626.4,392.81 L627.4,392.81 L628.4,392.81 L629.4,392.81 L630.4,392.81 L631.4,392.81 L632.4,392.81 L633.4,392.81 L634.4,392.81 L635.4,392.81 L636.4,392.80 L637.4,392.80 L638.4,392.80 L639.4,392.80 L640.4,392.80 L640.4,392.80" fill="none" stroke="url(#gpt)" stroke-width="1.6" stroke-linejoin="round" stroke-linecap="round"/></defs>
<use href="#pt" transform="translate(-1.525,-2.200)"/>
<use href="#pt" transform="translate(-0.915,-1.320)"/>
<use href="#pt" transform="translate(-0.305,-0.440)"/>
<use href="#pt" transform="translate(0.305,0.440)"/>
<use href="#pt" transform="translate(0.915,1.320)"/>
<use href="#pt" transform="translate(1.525,2.200)"/>
<circle cx="80.40" cy="301.2" r="3.9" fill="#fff" stroke="#269be1" stroke-width="1"/>
<circle cx="131.31" cy="279.8" r="3.9" fill="#fff" stroke="#269be1" stroke-width="1"/>
<circle cx="182.22" cy="234.25" r="3.9" fill="#fff" stroke="#269be1" stroke-width="1"/>
<circle cx="233.13" cy="233.0" r="3.9" fill="#fff" stroke="#269be1" stroke-width="1"/>
<circle cx="284.04" cy="241.4" r="3.9" fill="#fff" stroke="#269be1" stroke-width="1"/>
<circle cx="334.95" cy="208.0" r="3.9" fill="#fff" stroke="#269be1" stroke-width="1"/>
<circle cx="385.86" cy="195.85" r="3.9" fill="#fff" stroke="#269be1" stroke-width="1"/>
<circle cx="436.77" cy="190.0" r="3.9" fill="#fff" stroke="#269be1" stroke-width="1"/>
<circle cx="487.68" cy="175.8" r="3.9" fill="#fff" stroke="#269be1" stroke-width="1"/>
<circle cx="538.59" cy="173.0" r="3.9" fill="#fff" stroke="#269be1" stroke-width="1"/>
<circle cx="589.50" cy="167.7" r="3.9" fill="#fff" stroke="#269be1" stroke-width="1"/>
<circle cx="640.41" cy="167.66" r="3.9" fill="#fff" stroke="#269be1" stroke-width="1"/>
<circle cx="80.40" cy="364.4" r="3.9" fill="#fff" stroke="#0f736b" stroke-width="1"/>
<circle cx="131.31" cy="364.4" r="3.9" fill="#fff" stroke="#0f736b" stroke-width="1"/>
<circle cx="182.22" cy="364.4" r="3.9" fill="#fff" stroke="#0f736b" stroke-width="1"/>
<circle cx="233.13" cy="364.3" r="3.9" fill="#fff" stroke="#0f736b" stroke-width="1"/>
<circle cx="284.04" cy="364.2" r="3.9" fill="#fff" stroke="#0f736b" stroke-width="1"/>
<circle cx="334.95" cy="364.2" r="3.9" fill="#fff" stroke="#0f736b" stroke-width="1"/>
<circle cx="385.86" cy="393.0" r="3.9" fill="#fff" stroke="#0f736b" stroke-width="1"/>
<circle cx="436.77" cy="392.8" r="3.9" fill="#fff" stroke="#0f736b" stroke-width="1"/>
<circle cx="487.68" cy="392.8" r="3.9" fill="#fff" stroke="#0f736b" stroke-width="1"/>
<circle cx="538.59" cy="392.8" r="3.9" fill="#fff" stroke="#0f736b" stroke-width="1"/>
<circle cx="589.50" cy="392.8" r="3.9" fill="#fff" stroke="#0f736b" stroke-width="1"/>
<circle cx="640.41" cy="392.8" r="3.9" fill="#fff" stroke="#0f736b" stroke-width="1"/>
</svg>
<div class="leg" style="top:487px"><div class="sw" style="background:#1e98e0"></div><div class="lt">1 глаз ~ 7510р. (+20.01%)</div></div>
<div class="leg" style="top:521px"><div class="sw" style="background:#0c6c64"></div><div class="lt">2 глаза ~ 5400р. (-4.71%)</div></div>
</body></html>
